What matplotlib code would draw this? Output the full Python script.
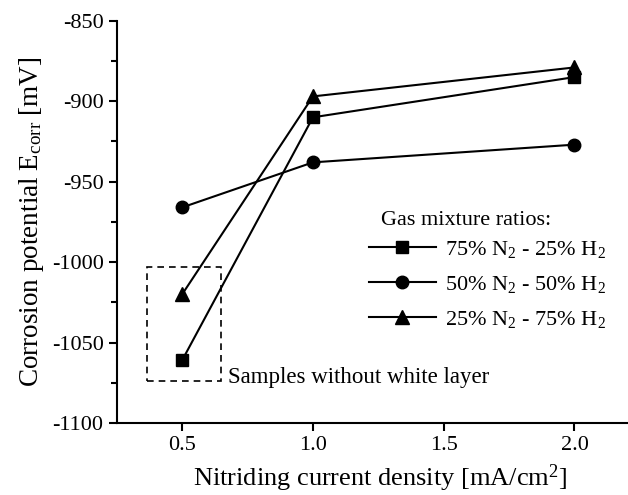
import matplotlib
matplotlib.use("Agg")
import matplotlib.pyplot as plt
from matplotlib.patches import Rectangle
from matplotlib.ticker import MultipleLocator

plt.rcParams['font.family'] = ['Liberation Serif', 'DejaVu Serif']
plt.rcParams['mathtext.fontset'] = 'custom'
plt.rcParams['mathtext.rm'] = 'Liberation Serif'
plt.rcParams['mathtext.it'] = 'Liberation Serif:italic'
plt.rcParams['axes.unicode_minus'] = False

current = [0.5, 1.0, 2.0]
s75 = [-1061, -910, -885]
s50 = [-966, -938, -927]
s25 = [-1020, -897, -879]
labels = ['75% N$_2$ - 25% H$_2$', '50% N$_2$ - 50% H$_2$', '25% N$_2$ - 75% H$_2$']

fig = plt.figure(figsize=(6.28, 4.95), dpi=100)
ax = fig.add_axes([0.186, 0.1455, 0.812, 0.8125])

ax.plot(current, s75, '-s', color='black', lw=1.5, ms=8, label=labels[0])
ax.plot(current, s50, '-o', color='black', lw=1.5, ms=9, label=labels[1])
ax.plot(current, s25, '-^', color='black', lw=1.5, ms=9.5, label=labels[2])

ax.set_xlim(0.25, 2.2)
ax.set_ylim(-1100, -850)
ax.set_xticks([0.5, 1.0, 1.5, 2.0])
ax.set_xticklabels(['0.5', '1.0', '1.5', '2.0'])
ax.yaxis.set_major_locator(MultipleLocator(50))
ax.yaxis.set_minor_locator(MultipleLocator(25))
for s in ['top', 'right']:
    ax.spines[s].set_visible(False)
for s in ['left', 'bottom']:
    ax.spines[s].set_linewidth(1.5)
ax.tick_params(axis='both', which='major', direction='out', length=6, width=1.5, labelsize=16)
ax.tick_params(axis='y', which='minor', direction='out', length=4, width=1.5)

ax.set_xlabel('Nitriding current density [mA/cm$^2$]', fontsize=19, labelpad=7)
ax.xaxis.set_label_coords(0.516, -0.098)
ax.set_ylabel('Corrosion potential E$_{\\mathrm{corr}}$ [mV]', fontsize=19.5, labelpad=4)

rect = Rectangle((0.365, -1074), 0.285, 71, fill=False, ls=(0, (4, 3)), lw=1.2, color='black')
ax.add_patch(rect)
ax.text(0.677, -1072, 'Samples without white layer', fontsize=16.5, va='center', ha='left')

leg = ax.legend(title='Gas mixture ratios:', loc='upper left',
                bbox_to_anchor=(358 / 628, 1 - 200 / 495), bbox_transform=fig.transFigure,
                frameon=False, fontsize=16, title_fontsize=16, handlelength=3.0,
                handletextpad=0.4, labelspacing=0.62, borderpad=0.0)
leg._legend_box.align = 'left'
leg._legend_box.sep = 6.5
leg.get_title().set_position((12, 0))

fig.savefig('out.png', dpi=100)
